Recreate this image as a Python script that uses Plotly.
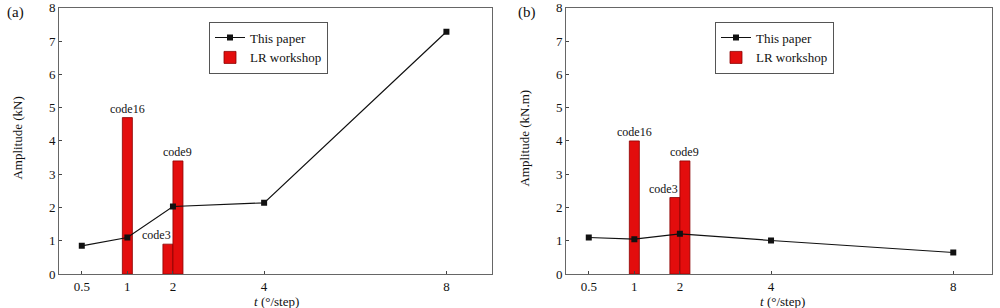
import plotly.graph_objects as go

# ---- data ----
step_labels = ["0.5", "1", "2", "4", "8"]
step_pos = [0, 1, 2, 4, 8]          # axis positions of the step values (0.5 drawn at 0)

paper_a = [0.85, 1.10, 2.03, 2.14, 7.28]
paper_b = [1.10, 1.05, 1.21, 1.01, 0.65]

bar_names = ["code16", "code3", "code9"]
bar_pos = [1.0, 1.89, 2.11]
lr_a = [4.70, 0.90, 3.40]
lr_b = [4.00, 2.30, 3.40]

FONT = "Liberation Serif"
RED = "#e30d0d"
EDGE = "#8a0000"

fig = go.Figure()

def add_panel(xa, ya, paper, lr, legend):
    fig.add_trace(go.Bar(
        x=bar_pos, y=lr, width=0.22, name="LR workshop",
        marker=dict(color=RED, line=dict(color=EDGE, width=0.8)),
        xaxis=xa, yaxis=ya, legend=legend, legendrank=2))
    fig.add_trace(go.Scatter(
        x=step_pos, y=paper, mode="lines+markers", name="This paper",
        line=dict(color="#111111", width=1.2),
        marker=dict(symbol="square", size=6, color="#111111"),
        xaxis=xa, yaxis=ya, legend=legend, legendrank=1))
    for name, p, v in zip(bar_names, bar_pos, lr):
        if name == "code3":
            fig.add_annotation(x=p + 0.11, y=v, text=name, xref=xa, yref=ya,
                               showarrow=False, xanchor="right", yanchor="bottom",
                               font=dict(family=FONT, size=12, color="#111"))
        else:
            fig.add_annotation(x=p, y=v, text=name, xref=xa, yref=ya,
                               showarrow=False, xanchor="center", yanchor="bottom",
                               font=dict(family=FONT, size=12, color="#111"))

add_panel("x", "y", paper_a, lr_a, "legend")
add_panel("x2", "y2", paper_b, lr_b, "legend2")

axis_common = dict(showline=True, linecolor="#666", linewidth=1, mirror=True,
                   showgrid=False, zeroline=False, ticks="inside", ticklen=3,
                   tickcolor="#444", ticklabeloverflow="allow", automargin=False,
                   tickfont=dict(family=FONT, size=13, color="#111"))

fig.update_layout(
    width=1000, height=308, margin=dict(l=0, r=0, t=0, b=0, autoexpand=False),
    paper_bgcolor="white", plot_bgcolor="white",
    font=dict(family=FONT, color="#111"),
    barmode="overlay", showlegend=True,
    xaxis=dict(domain=[0.059, 0.492], range=[-0.5, 9.0], tickvals=step_pos,
               ticktext=step_labels, anchor="y", **axis_common),
    yaxis=dict(domain=[0.110, 0.975], range=[0, 8.001], tickvals=list(range(9)),
               anchor="x", **axis_common),
    xaxis2=dict(domain=[0.566, 0.992], range=[-0.5, 8.85], tickvals=step_pos,
                ticktext=step_labels, anchor="y2", **axis_common),
    yaxis2=dict(domain=[0.110, 0.975], range=[0, 8.001], tickvals=list(range(9)),
                anchor="x2", **axis_common),
    legend=dict(x=0.209, y=0.93, xanchor="left", yanchor="top", bgcolor="white",
                bordercolor="#555", borderwidth=1, tracegroupgap=2,
                font=dict(family=FONT, size=13, color="#111")),
    legend2=dict(x=0.715, y=0.93, xanchor="left", yanchor="top", bgcolor="white",
                 bordercolor="#555", borderwidth=1, tracegroupgap=2,
                 font=dict(family=FONT, size=13, color="#111")),
)

# axis titles and panel labels
fig.add_annotation(text="Amplitude (kN)", xref="paper", yref="paper", x=0.018, y=0.55,
                   xanchor="center", yanchor="middle",
                   textangle=-90, showarrow=False, font=dict(family=FONT, size=13))
fig.add_annotation(text="Amplitude (kN.m)", xref="paper", yref="paper", x=0.525, y=0.55,
                   xanchor="center", yanchor="middle",
                   textangle=-90, showarrow=False, font=dict(family=FONT, size=13))
fig.add_annotation(text="<i>t</i> (°/step)", xref="paper", yref="paper", x=0.276, y=-0.01,
                   xanchor="center", yanchor="bottom",
                   showarrow=False, font=dict(family=FONT, size=13))
fig.add_annotation(text="<i>t</i> (°/step)", xref="paper", yref="paper", x=0.782, y=-0.01,
                   xanchor="center", yanchor="bottom",
                   showarrow=False, font=dict(family=FONT, size=13))
fig.add_annotation(text="(a)", xref="paper", yref="paper", x=0.015, y=0.96,
                   xanchor="center", yanchor="middle",
                   showarrow=False, font=dict(family=FONT, size=15))
fig.add_annotation(text="(b)", xref="paper", yref="paper", x=0.527, y=0.96,
                   xanchor="center", yanchor="middle",
                   showarrow=False, font=dict(family=FONT, size=15))

fig.write_html("out.html")
